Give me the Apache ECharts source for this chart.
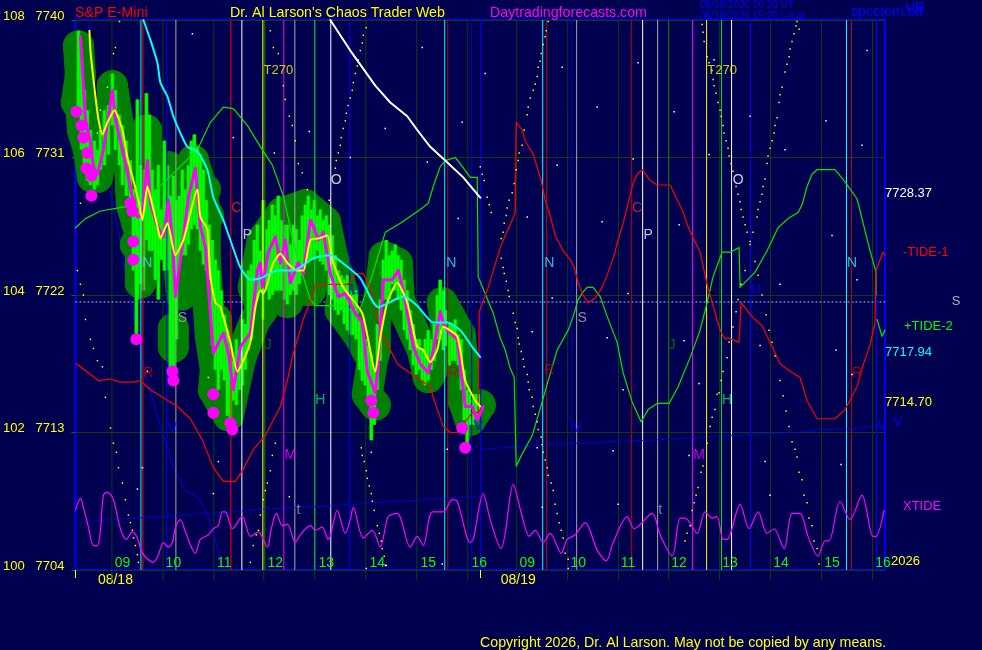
<!DOCTYPE html>
<html>
<head>
<meta charset="utf-8">
<style>html,body{margin:0;padding:0;background:#000050;}#c{width:982px;height:650px;}</style>
<script src="https://cdn.jsdelivr.net/npm/echarts@6/dist/echarts.min.js"></script>
</head>
<body>
<div id="c"></div>
<script>
// ---- axes ----
const priceTicks = [7704, 7713, 7722, 7731, 7740];
const oscTicks = [100, 102, 104, 106, 108];
const hourBars = [47, 98, 149, 200, 251, 302, 353, 404, 452, 503, 553, 604, 655, 706, 757, 808];
const hourLabels = ['09','10','11','12','13','14','15','16','09','10','11','12','13','14','15','16'];
const dateBars = [40, 443];
const dateLabels = ['08/18', '08/19'];
const dayStartBars = [0, 405];
const midLevel = 7721.54;

// ---- price path lines (bar number, price) ----
const yellowX = [14,15,20,23,27,32,39,47,52,58,63,67,72,78,82,85,92,100,108,122,125,132,135,140,145,155,162,175,180,185,188,198,205,212,222,228,235,243,252,258,268,287,300,305,312,322,332,342,348,355,362,368,382,390,400,405];
const yellowP = [7739.3,7738,7735,7733.5,7732.5,7733.3,7734.1,7732.8,7731,7729.5,7728.2,7726.9,7729.1,7727.6,7726.5,7725.7,7726.7,7724.6,7725.6,7728.9,7727.1,7726.3,7723.2,7721.5,7721.2,7718.9,7717,7718.9,7721.2,7722.3,7722.1,7724.1,7724.7,7724.1,7723.6,7723.6,7725.6,7725.7,7725.9,7724.1,7722.5,7720.8,7717,7719.2,7721.5,7722.8,7721.5,7718.6,7718.4,7717.6,7718.4,7719.9,7719.3,7716.4,7715.1,7714.70];
const magentaX = [5,10,15,18,22,28,37,40,50,57,62,67,72,75,82,88,93,97,100,108,113,120,122,125,130,138,148,153,158,165,175,182,185,187,193,200,205,210,215,223,228,235,238,243,248,255,263,270,280,287,292,300,303,308,317,323,328,338,345,353,358,365,368,372,382,390,397,402,408];
const magentaP = [7738.9,7733.5,7732,7730.4,7729.9,7731.5,7735.4,7733.5,7730.6,7728.4,7727.1,7727.2,7730.8,7728,7726.5,7725.8,7728.2,7725.6,7721.9,7725.8,7728.4,7730.3,7728.7,7726.5,7725.1,7718.2,7719.5,7718.2,7715.8,7718.6,7719.5,7723.6,7724.1,7722.5,7724.8,7725.8,7724.1,7725.6,7722.8,7724.1,7723.4,7726.9,7726.5,7725.6,7726.1,7723.4,7721.9,7722.1,7720.8,7720.2,7717,7715.6,7717.5,7723,7723,7723.6,7722.3,7718.6,7717.5,7716.9,7718.4,7720.9,7720.2,7719.7,7719.1,7714.7,7714.7,7713.8,7714.7];
const cyanX = [68,75,82,85,92,98,105,112,122,132,138,148,155,165,175,185,202,218,238,255,273,285,303,328,342,358,372,385,397,405];
const cyanP = [7740,7738.7,7737.2,7735.9,7735,7733.7,7732.6,7731.7,7731.4,7730.2,7728.4,7726.9,7725.6,7723.8,7723,7723.1,7723.6,7723.6,7724.4,7724.6,7723.8,7723.1,7721.2,7721.9,7721.3,7720.2,7720.2,7719.7,7718.6,7717.94];
const whiteX = [255,275,287,300,315,332,342,355,370,388,405];
const whiteP = [7740,7738,7736.9,7735.7,7734.6,7733.7,7732.8,7731.7,7730.8,7729.7,7728.37];

// ---- high / low bars ----
const barX = [3,6,9,12,15,19,22,25,29,33,37,40,44,47,51,55,58,61,62,65,68,71,74,77,80,83,86,89,92,95,98,101,104,107,110,113,116,119,122,125,128,131,134,137,140,143,146,149,152,155,158,161,164,167,170,173,176,179,182,185,188,191,194,197,200,203,206,209,212,215,218,221,224,227,230,233,236,239,242,245,248,251,254,257,260,263,266,269,272,275,278,281,284,287,290,293,296,299,302,305,308,311,314,317,320,323,326,329,332,335,338,341,344,347,350,353,356,359,362,365,368,371,374,377,380,383,386,389,392,395,398,401,404];
const barHigh = [7739.3,7737.7,7735.4,7734.1,7732.8,7732.1,7731.5,7732.8,7734.1,7734.4,7736.5,7735.4,7733.8,7733.1,7732.1,7730.8,7728.9,7727.6,7734.8,7730.5,7730.2,7735.2,7733.8,7730.2,7728.9,7730.5,7727.6,7732.1,7730.5,7728.5,7729.8,7728.2,7728.5,7730.2,7728.9,7730.5,7732.1,7732.5,7731.7,7731.2,7730.2,7728.2,7726.6,7725.6,7724.3,7723.6,7722.3,7720.7,7719.7,7718.7,7717.7,7719.1,7718.4,7720.4,7720.1,7723.6,7724,7725.6,7726.6,7724.9,7728.2,7726.3,7726.9,7727.9,7727.2,7728.5,7726.9,7726.6,7726.6,7725.3,7726.6,7726.3,7725.6,7727.2,7727.9,7728.5,7727.6,7728.2,7727.2,7727.6,7726.9,7727.2,7726.6,7725.9,7724.6,7723.6,7723.3,7723,7723.3,7722.3,7722,7722.3,7720.4,7720.1,7719.1,7718.7,7718.1,7717.1,7720.1,7721.7,7724.3,7725.6,7724.6,7724.9,7725.3,7724.6,7724.3,7723,7722.3,7721,7720.1,7719.1,7719.1,7718.4,7719.1,7719.7,7719.1,7720.1,7722,7723,7722.3,7721,7720.1,7720.1,7720.4,7719.4,7719.1,7717.1,7715.8,7715.5,7715.5,7715.5,7715.5];
const barLow = [7733.8,7731.5,7730.5,7729.5,7729.2,7728.9,7729.2,7730.2,7730.5,7731.2,7733.1,7731.5,7730.5,7729.2,7728.5,7727.6,7723.6,7719.1,7721.7,7722.7,7722.3,7725.6,7724.9,7724.9,7723,7721.7,7724.3,7723.6,7723.6,7717.1,7716.8,7719.1,7724,7724.6,7724.6,7725.3,7726.3,7726.6,7726.3,7724.9,7724,7723.6,7723,7718.7,7717.1,7715.8,7717.1,7716.4,7714.1,7713.2,7715.1,7714.8,7715.8,7716.1,7717.1,7718.4,7719.1,7721,7721.7,7722.3,7720.4,7722.3,7721.7,7722,7722.3,7722.3,7722.3,7721.7,7721.4,7722,7722.3,7722,7722.7,7723.3,7724.2,7724.3,7724.3,7724.3,7724.9,7724.2,7724,7723.6,7722,7721.7,7721,7720.7,7721,7720.1,7719.7,7719.4,7719.4,7719.1,7717.1,7716.4,7716.1,7715.1,7712.5,7713.5,7715.8,7717.7,7721.7,7721.7,7721.7,7722.7,7722.3,7721.7,7721,7719.7,7719.1,7718.4,7717.4,7716.8,7717.1,7716.4,7716.1,7716.4,7717.1,7717.7,7719.1,7719.1,7718.4,7718.7,7717.4,7717.7,7717.7,7717.4,7715.8,7713.8,7712.2,7713.5,7713.5,7714.1,7714.5];

// ---- volatility envelope centre paths (nulls split the branches) ----
const envelopeX = [3,5,1,5,7,13,17,22,25,30,37,37,43,52,55,56,65,65,null,71,71,75,70,65,null,93,90,null,55,130,null,60,133,null,60,103,null,95,103,106,null,98,98,null,118,118,null,118,127,130,130,133,135,140,138,153,165,170,180,187,178,187,207,212,212,null,141,143,150,null,178,235,null,187,212,null,207,230,250,257,267,265,283,297,292,300,null,230,240,235,null,309,322,324,312,null,324,338,347,353,365,372,367,385,388,388,405,395,388,null,309,305,300,300,297];
const envelopeP = [7738.3,7736.4,7734.6,7734.8,7732.8,7731.5,7729.7,7729.7,7730.8,7732.1,7733.8,7735.7,7733.1,7731.5,7729.5,7727.9,7725.9,7722.8,null,7732.8,7730.2,7727.6,7724.9,7722.8,null,7730.4,7727.6,null,7728.9,7728.9,null,7727.2,7727.2,null,7725.3,7725.3,null,7726.3,7724.3,7722,null,7719.8,7718.6,null,7730.8,7728.5,null,7730.8,7728.9,7726.6,7724.3,7721.2,7719.3,7717.1,7715.8,7714.1,7717.8,7718.7,7720.4,7721,7722.5,7725.6,7727.4,7724.9,7721.5,null,7720.4,7717.7,7715.5,null,7722.5,7722.3,null,7724.9,7724.9,null,7727.4,7727.9,7726.8,7724.6,7722.3,7721,7719.4,7717.7,7715.5,7714.8,null,7727.9,7725,7722.3,null,7724.5,7724.1,7721.7,7721.7,null,7721.7,7719.7,7718.4,7716.6,7718.1,7719.4,7721.5,7719.4,7717.4,7715.1,7714.8,7713.8,7715.1,null,7724.5,7722.3,7720.4,7718.4,7717.7];
const lowDotX = [1,6,8,12,11,16,16,55,57,58,58,61,97,98,138,138,155,157,296,298,387,390];
const lowDotP = [7734,7733.1,7732.3,7731.3,7730.3,7729.8,7728.5,7728,7727.5,7725.5,7724.3,7719.1,7717,7716.4,7715.5,7714.3,7713.6,7713.2,7715.1,7714.3,7713.3,7712];

// ---- forecast tides ----
const tide2X = [0,10,25,52,75,122,135,148,158,172,187,197,208,220,235,240,270,282,297,310,325,345,353,358,365,370,380,385,395,402,403,418,425,430,435,439,441,447,457,467,473,482,493,498,503,508,512,518,525,532,542,548,557,566,573,582,594,603,615,625,632,638,647,655,664,665,680,692,703,713,723,727,732,737,742,760,770,782,787,795,801,801,802,802,807,810];
const tide2P = [7726.4,7727,7727.5,7727.8,7728.5,7731.5,7733.3,7734.3,7734.2,7733.1,7731.5,7730.5,7728.5,7724.9,7721.7,7721.3,7721.3,7720.6,7723.3,7726.1,7726.7,7727.6,7728,7729.1,7730.4,7730.8,7731,7730.6,7729.7,7729.7,7723.2,7720.8,7719.2,7718.4,7717.2,7716.6,7710.8,7711.6,7712.8,7715,7716.4,7718.4,7719.7,7720.6,7721.7,7722.2,7722.5,7722.5,7721.9,7720.6,7718.9,7716.9,7715,7713.7,7714.5,7714.9,7714.9,7716,7717.9,7719.7,7721.5,7723.2,7724.8,7724.8,7725.1,7722.5,7723.5,7724.9,7726.4,7727,7727.4,7727.9,7729.1,7729.9,7730.2,7730.2,7729.4,7728.3,7727,7724.9,7723.5,7722,null,7720.4,7719.3,7719.7];
const tide1X = [1,23,35,45,58,65,75,102,115,127,138,148,160,167,178,190,205,212,218,228,238,240,273,280,288,295,305,322,328,355,358,368,375,382,397,403,404,413,425,430,437,440,441,447,450,458,466,470,475,480,488,495,499,503,508,513,520,527,532,538,543,548,553,558,562,567,575,582,595,600,607,614,625,632,645,650,653,664,666,678,687,695,705,713,725,732,742,760,770,782,788,795,800,801,803,808,810];
const tide1P = [7717.5,7716.4,7716.5,7716.3,7716.3,7716.4,7715.8,7714.7,7713.9,7712.5,7710.7,7709.8,7709.8,7710.5,7711.9,7712.8,7714.7,7716.4,7718.2,7720.4,7722.1,7722.7,7722.7,7723.4,7723.4,7722.5,7719.7,7717.5,7717.2,7716,7715.3,7713.4,7713,7713,7714.3,7714.3,7720.9,7722.5,7725.1,7725.9,7726.9,7727.4,7733.3,7732.8,7732.1,7731.2,7729.5,7728.2,7727.2,7725.9,7724.9,7724.3,7723.8,7722.8,7722,7721.5,7721.8,7722.5,7723.3,7724.4,7725.6,7726.7,7728,7729.3,7729.9,7730.2,7729.5,7729.2,7729.2,7728.5,7727.6,7726.3,7724.8,7722.7,7719.7,7719.1,7719.2,7718.9,7721.5,7720.5,7720,7718.9,7717.5,7717.1,7716.6,7715.1,7713.9,7713.9,7714.5,7716,7717.4,7718.7,7720.2,7723.6,7723.6,7724.8,7724.6];
const blueX = [13,18,25,33,42,55,68,88,100,110,122,133,142,147];
const blueP = [7740,7736.9,7733.8,7729.2,7726.5,7721.7,7717.3,7712.7,7710.4,7709.2,7708.8,7707.5,7705.5,7704];
const vLineX = [2,35,92,125,158,192,225,255,322,372,405,null,407,468,577,652,718,805];
const vLineP = [7707.1,7707.3,7707.5,7707.7,7707.8,7708,7708.1,7708.2,7708.5,7708.7,7708.8,null,7711.9,7712.2,7712.5,7712.8,7713,7713.4];
const xtideX = [0,5,8,13,18,22,25,28,32,38,45,51,57,62,67,78,83,88,93,97,100,105,110,120,125,133,138,143,147,150,157,167,175,183,192,196,201,207,212,220,225,235,240,247,253,255,262,270,275,278,288,297,305,313,322,335,342,348,357,368,377,382,395,398,408,415,426,430,438,447,454,460,468,475,486,492,500,510,522,531,538,552,559,577,585,597,605,610,622,630,637,642,648,652,665,674,683,692,699,709,717,725,733,743,750,754,765,775,787,798,801,809];
const xtideP = [7707.9,7708.7,7708.1,7706.8,7705.6,7705.6,7706.6,7708.9,7709.1,7708.6,7706.7,7706,7706.5,7706.1,7705.1,7704.5,7705,7705.8,7705.5,7705.8,7706.8,7707.3,7706.5,7705.1,7706,7706.3,7706.7,7706.9,7707.8,7707.8,7706.7,7707.5,7706.2,7706.5,7705.5,7706.7,7707.7,7706.9,7707,7705.8,7706.3,7706.9,7706.6,7706.8,7706,7706.2,7707.9,7706.4,7707.3,7708.1,7706.1,7706.6,7705.5,7707.5,7707.7,7705.5,7706.2,7705.6,7707.8,7707.8,7708.6,7708.5,7705.8,7706,7709,7707.3,7705.4,7706.4,7709.6,7707.5,7706.2,7706.6,7705.8,7706.4,7705.1,7706,7706.3,7707.1,7705.3,7704.6,7705.8,7707.5,7706.7,7707.7,7706.3,7704.9,7707.4,7707.4,7706.4,7707.8,7707.4,7707.5,7706,7706,7708.3,7706.7,7707.8,7706.4,7706.7,7705.4,7707.7,7707.7,7706.2,7704.9,7705.9,7705.9,7708.5,7707.3,7708.9,7706.2,7706.2,7707.9];

// ---- dotted cycle points ----
const cycleX = [44,40,38,32,25,22,13,5,2,5,8,10,15,18,22,27,30,35,38,41,43,47,50,53,55,57,58,60,62,63,175,178,181,183,185,188,190,192,195,197,200,195,198,203,208,210,214,217,220,223,227,232,291,288,287,285,283,282,280,278,277,275,273,271,270,268,266,265,263,261,260,286,287,289,291,292,294,296,297,299,302,304,306,307,309,310,405,407,409,412,414,416,426,428,429,431,432,434,437,439,441,443,444,447,449,452,453,455,458,460,462,463,465,466,468,470,471,473,426,428,429,431,433,434,438,440,442,443,444,446,448,449,452,453,454,457,458,460,462,463,466,467,468,470,472,473,476,478,480,482,484,486,488,490,493,627,628,629,632,634,637,638,639,641,643,645,646,648,649,651,653,654,656,658,661,663,665,666,668,670,672,675,680,683,687,691,694,697,700,705,708,711,714,717,720,722,724,727,729,732,734,737,739,742,744,610,612,615,617,619,621,623,626,628,632,635,637,640,642,644,646,648,652,654,658,661,663,666,670,675,678,682,683,685,687,688,690,692,693,695,697,699,700,702,704,705,707,710,712,714,715,717,719,721,722,724];
const cycleP = [7739.9,7738.2,7737.8,7735.6,7734.1,7732.6,7729.5,7728,7723.6,7722.7,7722,7720.4,7719.1,7718.5,7717.7,7717.3,7715.3,7713.3,7712.3,7711.7,7710.7,7709.7,7708.6,7707.6,7707.1,7706.6,7706.1,7705.6,7705,7704.5,7704.5,7705.6,7706.3,7706.6,7707.6,7708.6,7709.2,7709.7,7710.5,7711.5,7712.3,7739.3,7738.2,7737.8,7735.7,7734.8,7733.7,7733.1,7732.1,7730.6,7730,7728.9,7739.5,7739,7738.5,7738,7737.4,7737,7736.5,7735.9,7735.4,7734.9,7734.4,7733.9,7733.4,7732.9,7732.3,7731.8,7731.3,7730.8,7730.3,7712,7711.5,7711.1,7710.5,7710,7709.5,7709,7708.5,7707.9,7706.9,7706.4,7705.9,7705.4,7704.9,7704.3,7730.4,7729.9,7729.5,7728.4,7727.9,7727.4,7725.7,7726.1,7726.7,7727.2,7727.7,7728.2,7728.7,7729.3,7730.2,7730.8,7731.3,7731.8,7732.8,7733.8,7734.3,7734.9,7735.4,7735.8,7736.3,7736.9,7737.3,7737.8,7738.4,7738.9,7739.3,7739.9,7724.4,7723.8,7723.4,7722.9,7722.3,7721.9,7720.8,7720.2,7719.8,7719.2,7718.8,7718.3,7717.8,7717.3,7716.8,7716.3,7715.8,7715.3,7714.7,7714.2,7713.7,7713.2,7712.7,7712.2,7711.7,7711.2,7710.7,7710.2,7709.7,7709.2,7708.3,7707.7,7707.1,7706.6,7706.1,7705.1,7704.7,7739.7,7739.2,7738.6,7737.6,7737.2,7736.7,7736.1,7735.7,7735.2,7734.6,7734.1,7733.7,7733.1,7732.6,7732.1,7731.6,7731.1,7730.6,7730.1,7729.1,7728.6,7728.1,7727.6,7727.1,7726.6,7726.1,7725.5,7724.2,7723.3,7722,7720.7,7719.7,7718.9,7718,7716.4,7715.4,7714.4,7713.4,7712.4,7711.9,7711.4,7710.4,7709.9,7708.9,7708.4,7707.4,7706.9,7705.9,7705.4,7704.4,7705.9,7706.4,7706.9,7707.9,7708.4,7708.9,7709.4,7710.4,7710.8,7712.3,7713.4,7714,7714.5,7715.5,7715.6,7716.4,7717,7717.9,7718.9,7719.9,7720.9,7721.7,7722.7,7723.6,7725.3,7726.1,7727.1,7727.6,7728.1,7728.6,7729.1,7729.6,7730.6,7731.1,7731.6,7732.1,7732.6,7733.1,7733.6,7734.6,7735.1,7735.6,7736.6,7737.1,7737.6,7738.1,7738.6,7739.1,7739.6,7739.9,7739.4];
const starX = [117,158,234,199,254,72,133,347,410,487,522,310,387,275,352,482,563,558,452,383,792,639,599,675,751,787,710,634,604,757,705,782,685,761,624,777,614,690,766,695,67,62,143,138,214,296,372,462,538,467,543,291,367,493,311,532,548,553,527,609,477,457];
const starP = [7739.1,7732.3,7732.7,7731.3,7728.2,7717,7716.6,7738.2,7736.5,7736.9,7734.3,7732.9,7733.3,7731,7730.7,7730.5,7737.2,7730.9,7727.1,7727,7738,7737.4,7734,7733.7,7733.4,7731.8,7731.5,7731.2,7726.6,7725.9,7722.7,7723,7718.7,7718.4,7716.2,7716.8,7711.5,7711.1,7710.9,7708.9,7710.7,7709.3,7711.1,7709,7708.8,7711.7,7711.9,7712,7711.8,7708.1,7708.3,7704.1,7704.4,7704.1,7704.3,7719.2,7715.8,7722.1,7726.8,7719,7721.8,7719.6];

// ---- timing events (bar numbers) ----
const hourGridBars = [36,87,138,188,239,290,341,392,441,492,543,593,644,695,746,797];
const redEvents = [67,155];
const thinRedEvents = [372,471,556,776];
const cyanEvents = [65,369,467,771];
const blueEvents = [91,274,405,675,801];
const thinBlueEvents = [396,496];
const greyEvents = [100,219,501,582];
const whiteEvents = [166,255,567,656];
const yellowEvents = [187,631];
const brightGreenEvents = [239,646];
const darkGreenEvents = [189,593];
const magentaEvents = [208,617];

// ---- chart annotations ----
const planetText = ['C','C','O','O','P','P','N','N','N','N','S','S','R','R','R','R','J','J','H','H','M','M','U','U','V','V','V','V','t','t','T270','T270'];
const planetBar = [161,562,261,663,172,573,72,376,474,777,107,507,73,378,474,782,193,597,245,652,215,624,280,681,97,403,502,807,223,585,203,647];
const planetP = [7727.7,7727.7,7729.5,7729.5,7725.9,7725.9,7724.1,7724.1,7724.1,7724.1,7720.5,7720.5,7716.9,7716.9,7717.1,7716.9,7718.7,7718.7,7715.1,7715.1,7711.5,7711.5,7722.3,7722.3,7713.3,7713.4,7713.3,7713.4,7707.9,7707.9,7736.7,7736.7];

const last = a => a[a.length - 1];
const zip = (xs, ys) => xs.map((x, i) => [x, ys[i]]);
const base = {type: 'line', showSymbol: false, symbol: 'none', silent: true, animation: false};
const path = (xs, ys, color, width, extra) => Object.assign({}, base, {
  data: zip(xs, ys), connectNulls: false,
  lineStyle: {color, width, cap: 'round', join: 'round'}
}, extra || {});
const spans = (xs, hi, lo, shift) => {
  const out = [];
  xs.forEach((x, i) => {
    out.push([x + (shift || 0), hi[i]], [x + (shift || 0), lo[i]], [x + (shift || 0), null]);
  });
  return out;
};
const verticals = (xs, color, bottom) => Object.assign({}, base, {
  data: spans(xs, xs.map(() => priceTicks[4]), xs.map(() => bottom || priceTicks[0]), 0.5),
  clip: false, lineStyle: {color, width: 1}
});
const dots = (xs, ys, color, size) => ({
  type: 'scatter', data: zip(xs, ys), symbol: 'rect', symbolSize: size, silent: true,
  animation: false, itemStyle: {color, opacity: 1}
});

const planetColors = {C:'#ff2020',O:'#ffffff',P:'#e8e8ff',N:'#30e8ff',S:'#b0b0b0',R:'#c00000',J:'#008000',H:'#00e060',M:'#ff00ff',U:'#0000ff',V:'#0000ff',t:'#a0a0a0',T270:'#ffff00'};
const F = '"Liberation Sans", Arial, sans-serif';
const txt = (x, y, text, fill, size, align) => ({
  type: 'text', x, y, z: 100, silent: true,
  style: {text, fill, font: (size || 14.2) + 'px ' + F, textAlign: align || 'left', textVerticalAlign: 'middle'}
});

const seriesList = [
  verticals(hourGridBars, '#0c3c14', 7703.3),
  Object.assign({}, base, {data: [[0, midLevel], [810, midLevel]], lineStyle: {color: '#b8b8c8', width: 1, type: [2, 2]}}),
  path(blueX, blueP, '#0000e8', 1),
  path(envelopeX, envelopeP, '#008000', 31, {clip: false}),
  {type: 'scatter', symbol: 'circle', symbolSize: 31, silent: true, animation: false, clip: false,
   data: zip(envelopeX, envelopeP).filter(d => d[0] !== null), itemStyle: {color: '#008000', opacity: 1}},
  Object.assign({}, base, {data: spans(barX, barHigh, barLow), lineStyle: {color: '#00c000', width: 4}}),
  Object.assign({}, base, {data: spans(barX, barHigh, barLow), lineStyle: {color: '#00ff00', width: 2.5}}),
  verticals(cyanEvents, '#00ffff'),
  verticals(redEvents, '#ff0000'),
  verticals(thinRedEvents, '#c00000'),
  verticals(blueEvents, '#0000ff'),
  verticals(thinBlueEvents, '#0000d0'),
  verticals(greyEvents, '#a8a8a8'),
  verticals(whiteEvents, '#ffffff'),
  verticals(darkGreenEvents, '#008000'),
  verticals(yellowEvents, '#ffff00'),
  verticals(brightGreenEvents, '#00e040'),
  verticals(magentaEvents, '#ff00ff'),
  path(vLineX, vLineP, '#0000ff', 1, {lineStyle: {color: '#0000ff', width: 1, type: [2, 1]}}),
  path(tide2X, tide2P, '#00e800', 1.2),
  path(tide1X, tide1P, '#ff0000', 1.2),
  path(xtideX, xtideP, '#ff00ff', 1.2, {smooth: 0.3}),
  dots(cycleX, cycleP, '#ffff00', 1.5),
  dots(starX, starP, '#ffffff', 1.5),
  path(magentaX, magentaP, '#ff00ff', 3),
  path(yellowX, yellowP, '#ffff00', 2, {smooth: 0.2}),
  path(cyanX, cyanP, '#00ffff', 2, {smooth: 0.2}),
  path(whiteX, whiteP, '#ffffff', 2),
  {type: 'scatter', symbol: 'circle', symbolSize: 12, silent: true, animation: false, clip: false,
   data: zip(lowDotX, lowDotP), itemStyle: {color: '#ff00ff', opacity: 1}},
  {type: 'scatter', symbolSize: 1, silent: true, animation: false, itemStyle: {color: 'transparent'},
   data: planetText.map((t, i) => ({value: [planetBar[i], planetP[i]],
     label: {show: true, position: 'inside', formatter: t, color: planetColors[t], fontSize: t === 'T270' ? 13 : 14, fontFamily: F}}))}
];
seriesList.forEach((s, i) => { s.z = i + 2; });

const chart = echarts.init(document.getElementById('c'), null, {renderer: 'canvas', width: 982, height: 650});
chart.setOption({
  backgroundColor: '#000050',
  animation: false,
  grid: {left: 75, right: 97, top: 20, bottom: 80, show: true, borderColor: '#0000ff', borderWidth: 2, backgroundColor: 'transparent'},
  xAxis: [
    {type: 'value', min: 0, max: 810, z: 60, splitLine: {show: false}, axisLine: {show: false}, axisTick: {show: false},
     axisLabel: {inside: true, margin: 0, color: '#00ff00', fontSize: 14, fontFamily: F, customValues: hourBars,
       formatter: v => hourLabels[hourBars.indexOf(v)]}},
    {type: 'value', position: 'bottom', min: 0, max: 810, splitLine: {show: false}, axisLine: {show: false},
     axisTick: {show: true, length: 8, lineStyle: {color: '#ffff00'}, customValues: dayStartBars},
     axisLabel: {margin: 3, color: '#ffff00', fontSize: 14, fontFamily: F, customValues: dateBars,
       formatter: v => dateLabels[dateBars.indexOf(v)]}}
  ],
  yAxis: {type: 'value', min: 7704, max: 7740, interval: 9, position: 'left',
    splitLine: {show: true, lineStyle: {color: '#0c3c14', width: 1}},
    axisLine: {show: false}, axisTick: {show: true, length: 4, lineStyle: {color: '#008000'}},
    axisLabel: {margin: 11, color: '#ffff00', fontSize: 13, fontFamily: F, verticalAlign: 'bottom', lineHeight: 8,
      formatter: v => oscTicks[priceTicks.indexOf(v)] + '   ' + v}},
  series: seriesList,
  graphic: [
    txt(75, 13, 'S&P E-Mini', '#ff0000'),
    txt(230, 13, "Dr. Al Larson's Chaos Trader Web", '#ffff00'),
    txt(490, 13, 'Daytradingforecasts.com', '#ff00ff'),
    txt(700, 5, '08/18/2026 20:20 UT', '#0000ff', 10),
    txt(700, 16, '08/18/2026 15:20 Local', '#0000ff', 10),
    txt(851, 12, 'spcctom.txt', '#0000ff'),
    txt(905, 8, 'UB', '#0000ff'),
    txt(885, 193, String(last(whiteP)), '#ffffff', 13),
    txt(903, 252, '-TIDE-1', '#ff0000', 13),
    txt(956, 301, 'S', '#b0b0b0', 13, 'center'),
    txt(904, 326, '+TIDE-2', '#00ff00', 13),
    txt(885, 352, last(cyanP).toFixed(2), '#00ffff', 13),
    txt(885, 402, last(yellowP).toFixed(2), '#ffff00', 13),
    txt(898, 422, 'V', '#0000ff', 13, 'center'),
    txt(903, 506, 'XTIDE', '#ff00ff', 13),
    txt(891, 561, '2026', '#ffff00', 13),
    txt(480, 643, 'Copyright 2026, Dr. Al Larson. May not be copied by any means.', '#ffff00')
  ]
});
</script>
</body>
</html>
